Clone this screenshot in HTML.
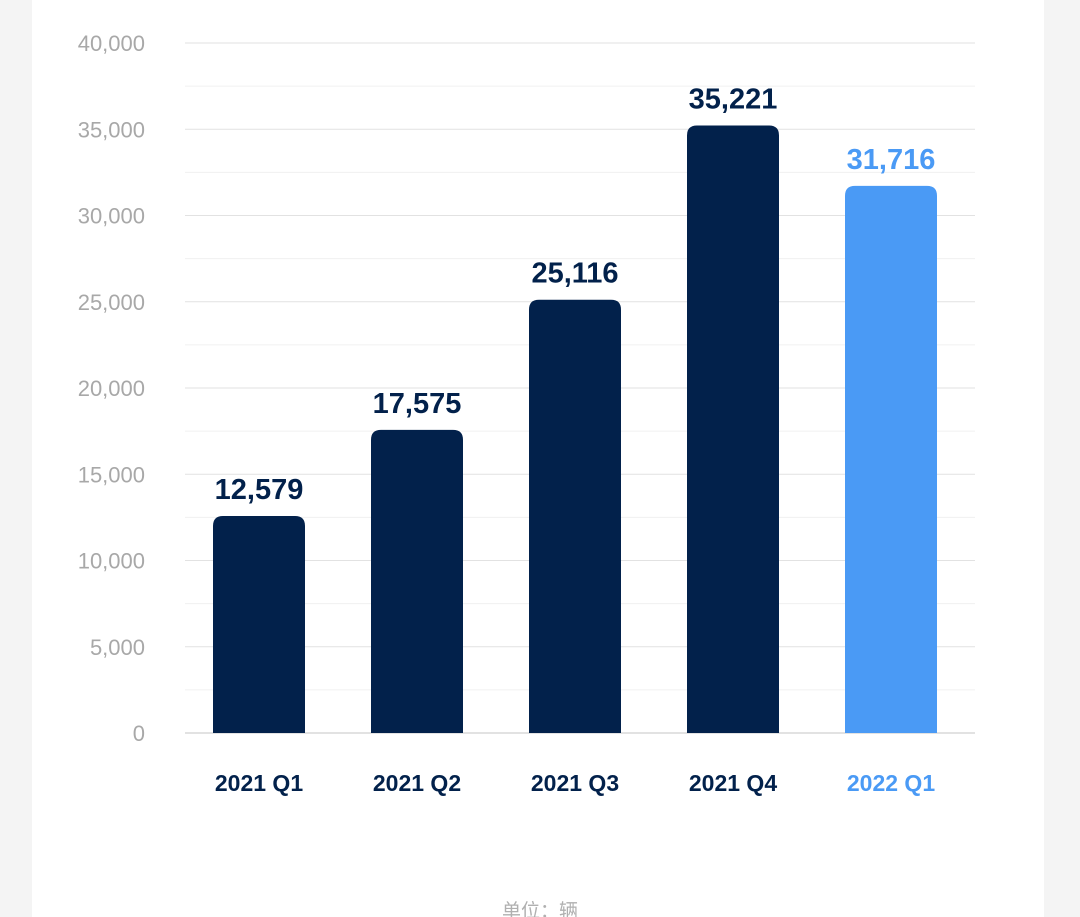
<!DOCTYPE html>
<html><head><meta charset="utf-8"><style>
html,body{margin:0;padding:0;background:#f4f4f4;width:1080px;height:917px;overflow:hidden}
#card{position:absolute;left:32px;top:0;width:1012px;height:917px;background:#fff}
svg{position:absolute;left:0;top:0}
</style></head><body>
<div id="card"></div>
<svg id="chart" width="1080" height="917"></svg>
<script>
const categories=["2021 Q1","2021 Q2","2021 Q3","2021 Q4","2022 Q1"];
const values=[12579,17575,25116,35221,31716];
const valueLabels=["12,579","17,575","25,116","35,221","31,716"];
const tickValues=[0,5000,10000,15000,20000,25000,30000,35000,40000];
const tickLabels=["0","5,000","10,000","15,000","20,000","25,000","30,000","35,000","40,000"];
const svg=document.getElementById('chart');
const NS='http://www.w3.org/2000/svg';
const x0=185,x1=975,yTop=43,yBot=733,maxV=40000;
const y=v=>yBot-(v/maxV)*(yBot-yTop);
const band=(x1-x0)/categories.length;
const xc=i=>x0+band*(i+0.5)-5;
function mk(t,a){const e=document.createElementNS(NS,t);for(const k in a)e.setAttribute(k,a[k]);svg.appendChild(e);return e;}
for(let v=2500;v<maxV;v+=5000){
 const l=mk('line',{x1:x0,x2:x1,y1:y(v),y2:y(v),stroke:'#f0f0f0','stroke-width':1});
 
 
}
tickValues.forEach((v,i)=>{
 const l=mk('line',{x1:x0,x2:x1,y1:y(v),y2:y(v),stroke:v===0?'#d8d8d8':'#e2e2e2','stroke-width':v===0?1.5:1});
 
 
 const t=mk('text',{x:145,y:y(v)+8,'text-anchor':'end','font-size':22,fill:'#a8a8a8','font-family':'Liberation Sans, sans-serif'});
 t.textContent=tickLabels[i];
 
 
});
const bw=92,r=10;
values.forEach((v,i)=>{
 const col=i===4?'#4a9af5':'#02214b';
 const xl=xc(i)-bw/2,yt=y(v);
 const p=mk('path',{d:`M${xl},${yBot} L${xl},${yt+r} Q${xl},${yt} ${xl+r},${yt} L${xl+bw-r},${yt} Q${xl+bw},${yt} ${xl+bw},${yt+r} L${xl+bw},${yBot} Z`,fill:col});
 
 
 const t=mk('text',{x:xc(i),y:yt-17,'text-anchor':'middle','font-size':29,'font-weight':'bold',fill:col,'font-family':'Liberation Sans, sans-serif'});
 t.textContent=valueLabels[i];
 
 
 const c=mk('text',{x:xc(i),y:791,'text-anchor':'middle','font-size':23,'font-weight':'bold',fill:col,'font-family':'Liberation Sans, sans-serif'});
 c.textContent=categories[i];
 
 
});
const u=mk('text',{x:540,y:917,'text-anchor':'middle','font-size':19,fill:'#b0b0b0','font-family':'Liberation Sans, Noto Sans CJK SC, sans-serif'});
u.textContent='单位：辆';


</script>
</body></html>
